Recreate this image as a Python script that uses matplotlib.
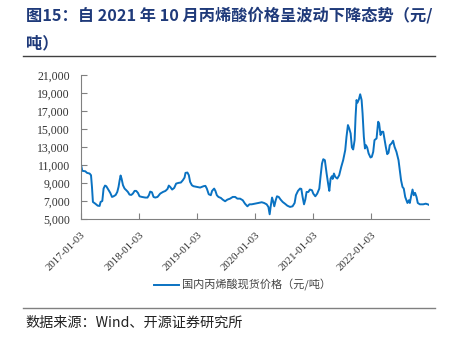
import matplotlib.pyplot as plt
import matplotlib.dates as mdates
import numpy as np
import pandas as pd

plt.rcParams['font.family'] = ['Noto Sans CJK SC', 'DejaVu Sans']

# 国内丙烯酸现货价格（元/吨）
dates = [
    "2017-01-03", "2017-01-11", "2017-01-30", "2017-02-10", "2017-02-26", "2017-03-07",
    "2017-03-13", "2017-03-19", "2017-04-03", "2017-04-18", "2017-04-30", "2017-05-06",
    "2017-05-17", "2017-05-25", "2017-06-03", "2017-06-11", "2017-06-26", "2017-07-06",
    "2017-07-17", "2017-07-27", "2017-08-09", "2017-08-19", "2017-08-27", "2017-09-03",
    "2017-09-09", "2017-09-15", "2017-09-24", "2017-10-04", "2017-10-15", "2017-10-25",
    "2017-11-04", "2017-11-15", "2017-11-25", "2017-12-06", "2017-12-16", "2017-12-27",
    "2018-01-06", "2018-01-21", "2018-02-11", "2018-02-25", "2018-03-06", "2018-03-14",
    "2018-03-25", "2018-04-04", "2018-04-15", "2018-04-29", "2018-05-16", "2018-06-02",
    "2018-06-18", "2018-07-01", "2018-07-09", "2018-07-18", "2018-07-30", "2018-08-12",
    "2018-08-24", "2018-09-08", "2018-09-23", "2018-10-05", "2018-10-16", "2018-10-22",
    "2018-11-03", "2018-11-12", "2018-11-20", "2018-12-01", "2018-12-11", "2019-01-01",
    "2019-01-22", "2019-02-12", "2019-02-24", "2019-03-05", "2019-03-17", "2019-03-30",
    "2019-04-07", "2019-04-20", "2019-04-28", "2019-05-07", "2019-05-17", "2019-06-01",
    "2019-06-13", "2019-06-28", "2019-07-12", "2019-07-29", "2019-08-15", "2019-08-30",
    "2019-09-13", "2019-09-30", "2019-10-17", "2019-10-31", "2019-11-15", "2019-11-28",
    "2019-12-12", "2020-01-02", "2020-01-23", "2020-02-13", "2020-02-28", "2020-03-15",
    "2020-03-26", "2020-04-03", "2020-04-09", "2020-04-18", "2020-04-26", "2020-05-02",
    "2020-05-11", "2020-05-19", "2020-05-30", "2020-06-11", "2020-06-24", "2020-07-08",
    "2020-07-23", "2020-08-09", "2020-08-25", "2020-09-07", "2020-09-15", "2020-09-28",
    "2020-10-11", "2020-10-19", "2020-10-27", "2020-11-05", "2020-11-13", "2020-11-21",
    "2020-12-02", "2020-12-12", "2020-12-25", "2021-01-02", "2021-01-15", "2021-01-27",
    "2021-02-09", "2021-02-17", "2021-02-26", "2021-03-06", "2021-03-16", "2021-03-27",
    "2021-04-06", "2021-04-13", "2021-04-21", "2021-04-29", "2021-05-04", "2021-05-12",
    "2021-05-20", "2021-06-02", "2021-06-14", "2021-06-27", "2021-07-09", "2021-07-22",
    "2021-07-30", "2021-08-08", "2021-08-16", "2021-08-25", "2021-09-02", "2021-09-10",
    "2021-09-19", "2021-09-25", "2021-10-01", "2021-10-07", "2021-10-16", "2021-10-24",
    "2021-11-02", "2021-11-08", "2021-11-16", "2021-11-23", "2021-11-29", "2021-12-07",
    "2021-12-16", "2021-12-28", "2022-01-05", "2022-01-14", "2022-01-22", "2022-02-04",
    "2022-02-14", "2022-02-20", "2022-03-01", "2022-03-09", "2022-03-18", "2022-03-26",
    "2022-04-03", "2022-04-12", "2022-04-20", "2022-04-28", "2022-05-09", "2022-05-19",
    "2022-05-28", "2022-06-09", "2022-06-22", "2022-06-30", "2022-07-08", "2022-07-17",
    "2022-07-25", "2022-08-03", "2022-08-11", "2022-08-17", "2022-08-26", "2022-09-01",
    "2022-09-09", "2022-09-18", "2022-09-26", "2022-10-04", "2022-10-13", "2022-10-21",
    "2022-11-03", "2022-11-24", "2022-12-10", "2022-12-23", "2022-12-31",
]
prices = [
    11050, 10350, 10300, 10120, 10050, 9860,
    8560, 6890, 6700, 6480, 6450, 6890,
    7000, 8380, 8710, 8640, 8190, 7900,
    7450, 7520, 7670, 8000, 8560, 9300,
    9830, 9490, 8750, 8380, 8190, 8000,
    7710, 7670, 7820, 8120, 8120, 7900,
    7520, 7450, 7380, 7380, 7640, 8040,
    7970, 7450, 7380, 7450, 7820, 8000,
    8120, 8340, 8710, 8560, 8270, 8450,
    8930, 9010, 9050, 9300, 9600, 10120,
    10160, 9860, 9120, 8750, 8640, 8560,
    8490, 8640, 8680, 8380, 7750, 7640,
    8120, 8380, 8120, 7640, 7450, 7340,
    7150, 6970, 7150, 7260, 7450, 7450,
    7260, 7260, 7080, 6700, 6410, 6630,
    6630, 6700, 6780, 6860, 6780, 6630,
    6340, 5520, 6340, 7380, 6890, 6410,
    7080, 7520, 7450, 7150, 6890, 6700,
    6480, 6340, 6410, 6780, 7640, 8120,
    8380, 8340, 7450, 6630, 7150, 8000,
    8000, 8270, 8190, 7820, 7520, 7820,
    8380, 9750, 11160, 11640, 11530, 10050,
    8860, 8120, 9490, 9750, 9450, 10050,
    9680, 9490, 9860, 10790, 11530, 12650,
    14130, 15430, 15060, 14500, 12940, 12720,
    13760, 16360, 18210, 17920, 18290, 18850,
    18210, 16730, 14130, 12830, 13200, 12940,
    12280, 11830, 11900, 12460, 13760, 13950,
    15800, 15620, 14320, 14690, 14690, 13830,
    13020, 12200, 12350, 13200, 13390, 13690,
    13020, 12460, 11530, 10420, 9300, 8560,
    8380, 7450, 7080, 6780, 7080, 6780,
    7520, 8270, 7640, 7900, 7450, 6780,
    6630, 6630, 6700, 6630, 6560,
]
tick_dates = ["2017-01-03", "2018-01-03", "2019-01-03", "2020-01-03", "2021-01-03", "2022-01-03"]
yticks = [5000, 7000, 9000, 11000, 13000, 15000, 17000, 19000, 21000]

title_1 = "图15：自 2021 年 10 月丙烯酸价格呈波动下降态势（元/"
title_2 = "吨）"
series_name = "国内丙烯酸现货价格（元/吨）"
source = "数据来源：Wind、开源证券研究所"

x = pd.to_datetime(dates)
fig = plt.figure(figsize=(4.55, 3.39), dpi=100)
ax = fig.add_axes([0.178, 0.354, 0.765, 0.425])
ax.plot(x, prices, color="#0A72C2", lw=1.4, label=series_name)

ax.set_ylim(5000, 21000)
ax.set_yticks(yticks)
ax.set_yticklabels([f"{v:,}" for v in yticks], fontfamily="Liberation Serif", fontsize=8.5, color="#333333")
ax.set_xlim(x[0], x[-1])
ax.set_xticks(pd.to_datetime(tick_dates))
ax.set_xticklabels(tick_dates, rotation=45, ha="right", rotation_mode="anchor",
                   fontfamily="Liberation Serif", fontsize=7.8, color="#333333")
ax.tick_params(direction="in", length=4, color="#808080", width=0.8)
ax.tick_params(axis="x", pad=8)
ax.tick_params(axis="y", pad=8)
for s in ["top", "right"]:
    ax.spines[s].set_visible(False)
for s in ["left", "bottom"]:
    ax.spines[s].set_color("#808080")
    ax.spines[s].set_linewidth(0.8)

leg = fig.legend(loc="center", bbox_to_anchor=(0.533, 0.158), frameon=False,
                 fontsize=8, handlelength=2.2, handletextpad=0.3)
for t in leg.get_texts():
    t.set_color("#444444")

title_color = "#1F3A7A"
fig.text(0.057, 0.955, title_1, fontsize=11.7, fontweight="bold", color=title_color, va="center")
fig.text(0.057, 0.873, title_2, fontsize=11.7, fontweight="bold", color=title_color, va="center")
fig.add_artist(plt.Line2D([0.051, 0.957], [0.835, 0.835], color="#404040", lw=1.0))
fig.add_artist(plt.Line2D([0.051, 0.957], [0.091, 0.091], color="#808080", lw=1.0))
fig.text(0.055, 0.048, source, fontsize=10.2, color="#222222", va="center")

fig.savefig("out.png", dpi=100)
